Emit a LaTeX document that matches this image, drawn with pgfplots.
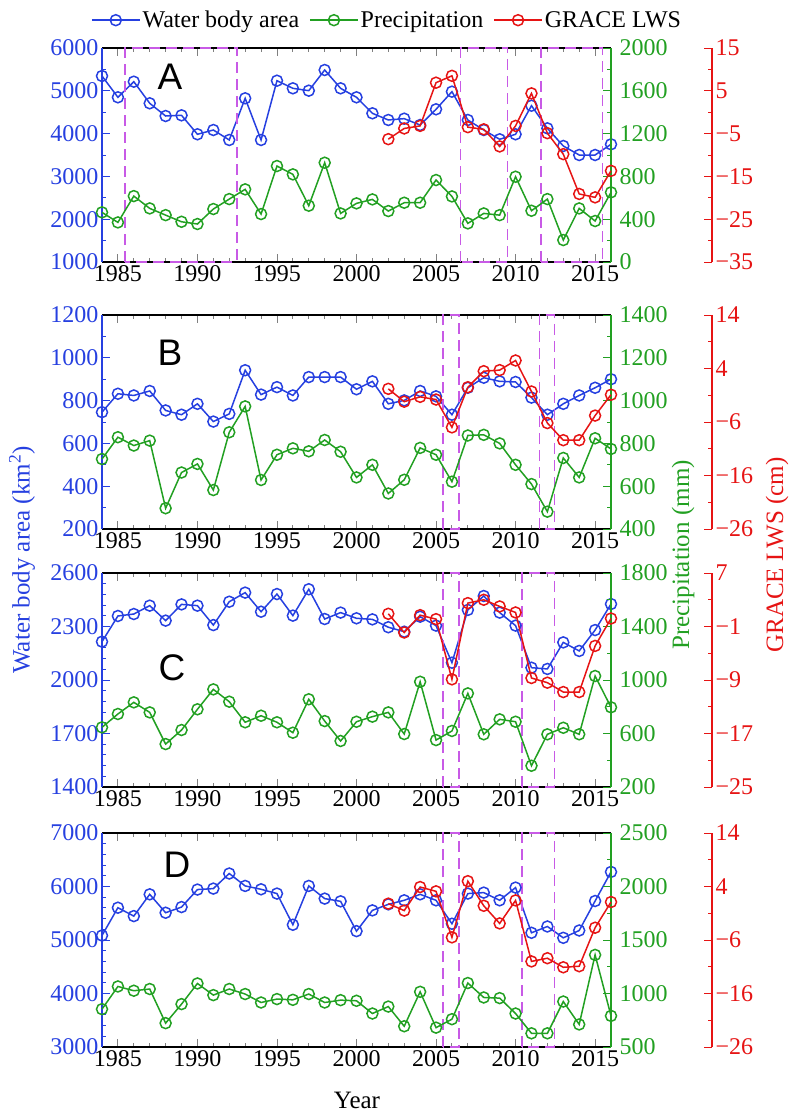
\documentclass[border=0pt]{standalone}
\usepackage{pgfplots}
\pgfplotsset{compat=1.18}
\usepackage{fontspec}
\setmainfont{Liberation Serif}
\newfontfamily\sanslab{Liberation Sans}
\definecolor{bc}{RGB}{38,64,224}
\definecolor{gc}{RGB}{34,160,34}
\definecolor{rc}{RGB}{230,20,20}
\definecolor{mc}{RGB}{200,90,230}
\tikzset{dsh/.style={draw=mc, line width=1.6pt, dash pattern=on 11pt off 6pt}}
\pgfplotsset{
  base/.style={scale only axis, width=509pt, height=214pt, xmin=1984, xmax=2016,
    anchor=south west, tick align=inside, major tick length=8pt, minor tick length=4pt,
    tick label style={font=\rmfamily\fontsize{24}{26}\selectfont},
    clip=false, axis line style={line width=1.1pt}, tick style={line width=0.9pt}},
  bluax/.style={base, axis x line*=box, axis y line*=left, xtick={1985,1990,...,2015},
    xticklabels={1985,1990,1995,2000,2005,2010,2015},
    minor x tick num=4, y axis line style={bc}, ytick style={bc},
    yticklabel style={text=bc}, x axis line style={black}},
  grnax/.style={base, axis y line*=right, axis x line=none, minor y tick num=1,
    y axis line style={gc}, ytick style={gc}, yticklabel style={text=gc, xshift=5pt}},
  reddat/.style={base, hide axis},
  redax/.style={scale only axis, width=101pt, height=214pt, anchor=south west, xmin=0, xmax=1,
    axis x line=none, axis y line*=right, tick align=inside, major tick length=8pt,
    minor tick length=4pt, minor y tick num=1, tick label style={font=\rmfamily\fontsize{24}{26}\selectfont},
    axis line style={line width=1.1pt}, tick style={line width=0.9pt},
    y axis line style={rc}, ytick style={rc}, yticklabel style={text=rc}},
  bser/.style={color=bc, line width=1.5pt, mark=o, mark size=5.5pt, mark options={solid}},
  gser/.style={color=gc, line width=1.5pt, mark=o, mark size=5.5pt, mark options={solid}},
  rser/.style={color=rc, line width=1.5pt, mark=o, mark size=5.5pt, mark options={solid}},
}
\begin{document}
\begin{tikzpicture}
\useasboundingbox (0,0) rectangle (793pt,-1115pt);
% ================= Panel A =================
\begin{axis}[bluax, at={(102pt,-262pt)}, ymin=1000, ymax=6000, ytick={1000,2000,...,6000},
  yticklabels={1000,2000,3000,4000,5000,6000}, minor y tick num=1,
  legend style={at={(0.56,1.13)}, anchor=center, draw=none, fill=none, legend columns=3,
    font=\fontsize{24}{26}\selectfont, /tikz/every even column/.append style={column sep=8pt}},
  legend image code/.code={\draw[mark repeat=2,mark phase=2] plot coordinates {(0pt,0pt) (24pt,0pt) (48pt,0pt)};}]
\addplot[bser] coordinates {(1984,5346)(1985,4848)(1986,5213)(1987,4708)(1988,4411)(1989,4427)(1990,3984)(1991,4084)(1992,3851)(1993,4825)(1994,3851)(1995,5236)(1996,5058)(1997,5003)(1998,5486)(1999,5058)(2000,4848)(2001,4474)(2002,4318)(2003,4349)(2004,4201)(2005,4568)(2006,4980)(2007,4318)(2008,4084)(2009,3867)(2010,3984)(2011,4652)(2012,4123)(2013,3711)(2014,3500)(2015,3500)(2016,3750)};
\addlegendentry{Water body area}
\addlegendimage{gser}\addlegendentry{Precipitation}
\addlegendimage{rser}\addlegendentry{GRACE LWS}
\draw[dsh] (axis cs:1985.45,1000) rectangle (axis cs:1992.47,6000);
\draw[dsh] (axis cs:2006.55,1000) rectangle (axis cs:2009.5,6000);
\draw[dsh] (axis cs:2011.6,1000) rectangle (axis cs:2015.47,6000);
\end{axis}
\begin{axis}[grnax, at={(102pt,-262pt)}, ymin=0, ymax=2000, ytick={0,400,...,2000},
  yticklabels={0,400,800,1200,1600,2000}]
\addplot[gser] coordinates {(1984,464)(1985,370)(1986,616)(1987,501)(1988,438)(1989,376)(1990,355)(1991,495)(1992,588)(1993,679)(1994,448)(1995,897)(1996,819)(1997,526)(1998,928)(1999,454)(2000,548)(2001,585)(2002,476)(2003,554)(2004,554)(2005,766)(2006,613)(2007,361)(2008,454)(2009,438)(2010,797)(2011,479)(2012,588)(2013,205)(2014,501)(2015,383)(2016,651)};
\end{axis}
\begin{axis}[reddat, at={(102pt,-262pt)}, ymin=-35, ymax=15]
\addplot[rser] coordinates {(2002,-6.3)(2003,-3.8)(2004,-3.2)(2005,6.9)(2006,8.5)(2007,-3.5)(2008,-4.0)(2009,-8.0)(2010,-3.2)(2011,4.4)(2012,-4.9)(2013,-9.8)(2014,-19.1)(2015,-19.9)(2016,-13.7)};
\end{axis}
\begin{axis}[redax, at={(611pt,-262pt)}, ymin=-35, ymax=15, ytick={-35,-25,...,15}, yticklabels={−35,−25,−15,−5,5,15}]
\end{axis}
% ================= Panel B =================
\begin{axis}[bluax, at={(102pt,-529pt)}, ymin=200, ymax=1200, ytick={200,400,...,1200},
  yticklabels={200,400,600,800,1000,1200}, minor y tick num=1]
\addplot[bser] coordinates {(1984,746)(1985,832)(1986,824)(1987,845)(1988,754)(1989,734)(1990,785)(1991,702)(1992,738)(1993,942)(1994,828)(1995,863)(1996,824)(1997,910)(1998,910)(1999,910)(2000,853)(2001,890)(2002,785)(2003,801)(2004,845)(2005,820)(2006,734)(2007,860)(2008,907)(2009,890)(2010,887)(2011,814)(2012,734)(2013,785)(2014,824)(2015,860)(2016,900)};
\draw[dsh] (axis cs:2005.45,200) rectangle (axis cs:2006.45,1200);
\draw[dsh] (axis cs:2011.5,200) rectangle (axis cs:2012.45,1200);
\end{axis}
\begin{axis}[grnax, at={(102pt,-529pt)}, ymin=400, ymax=1400, ytick={400,600,...,1400},
  yticklabels={400,600,800,1000,1200,1400}]
\addplot[gser] coordinates {(1984,727)(1985,829)(1986,790)(1987,813)(1988,497)(1989,664)(1990,704)(1991,582)(1992,852)(1993,973)(1994,629)(1995,747)(1996,777)(1997,763)(1998,816)(1999,761)(2000,641)(2001,700)(2002,566)(2003,630)(2004,779)(2005,747)(2006,621)(2007,837)(2008,840)(2009,800)(2010,700)(2011,610)(2012,481)(2013,732)(2014,641)(2015,824)(2016,774)};
\end{axis}
\begin{axis}[reddat, at={(102pt,-529pt)}, ymin=-26, ymax=14]
\addplot[rser] coordinates {(2002,0.2)(2003,-2.2)(2004,-1.3)(2005,-1.8)(2006,-7.0)(2007,0.5)(2008,3.5)(2009,3.7)(2010,5.5)(2011,-0.3)(2012,-6.2)(2013,-9.4)(2014,-9.4)(2015,-4.8)(2016,-0.9)};
\end{axis}
\begin{axis}[redax, at={(611pt,-529pt)}, ymin=-26, ymax=14, ytick={-26,-16,...,14}, yticklabels={−26,−16,−6,4,14}]
\end{axis}
% ================= Panel C =================
\begin{axis}[bluax, at={(102pt,-787pt)}, ymin=1400, ymax=2600, ytick={1400,1700,...,2600},
  yticklabels={1400,1700,2000,2300,2600}, minor y tick num=4]
\addplot[bser] coordinates {(1984,2215)(1985,2359)(1986,2370)(1987,2417)(1988,2333)(1989,2424)(1990,2417)(1991,2308)(1992,2439)(1993,2490)(1994,2383)(1995,2482)(1996,2361)(1997,2509)(1998,2342)(1999,2378)(2000,2346)(2001,2340)(2002,2296)(2003,2271)(2004,2355)(2005,2305)(2006,2097)(2007,2393)(2008,2471)(2009,2378)(2010,2305)(2011,2069)(2012,2062)(2013,2211)(2014,2163)(2015,2280)(2016,2426)};
\draw[dsh] (axis cs:2005.45,1400) rectangle (axis cs:2006.45,2600);
\draw[dsh] (axis cs:2010.4,1400) rectangle (axis cs:2012.45,2600);
\end{axis}
\begin{axis}[grnax, at={(102pt,-787pt)}, ymin=200, ymax=1800, ytick={200,600,...,1800},
  yticklabels={200,600,1000,1400,1800}]
\addplot[gser] coordinates {(1984,646)(1985,746)(1986,833)(1987,758)(1988,521)(1989,626)(1990,781)(1991,930)(1992,838)(1993,684)(1994,733)(1995,684)(1996,606)(1997,856)(1998,693)(1999,544)(2000,688)(2001,726)(2002,758)(2003,596)(2004,987)(2005,551)(2006,619)(2007,900)(2008,594)(2009,706)(2010,688)(2011,359)(2012,594)(2013,643)(2014,594)(2015,1030)(2016,796)};
\end{axis}
\begin{axis}[reddat, at={(102pt,-787pt)}, ymin=-25, ymax=7]
\addplot[rser] coordinates {(2002,0.9)(2003,-1.9)(2004,0.7)(2005,0.1)(2006,-8.9)(2007,2.5)(2008,3.0)(2009,2.0)(2010,1.1)(2011,-8.7)(2012,-9.4)(2013,-10.8)(2014,-10.8)(2015,-3.9)(2016,0.2)};
\end{axis}
\begin{axis}[redax, at={(611pt,-787pt)}, ymin=-25, ymax=7, ytick={-25,-17,...,7}, yticklabels={−25,−17,−9,−1,7}]
\end{axis}
% ================= Panel D =================
\begin{axis}[bluax, at={(102pt,-1047pt)}, ymin=3000, ymax=7000, ytick={3000,4000,...,7000},
  yticklabels={3000,4000,5000,6000,7000}, minor y tick num=4]
\addplot[bser] coordinates {(1984,5084)(1985,5604)(1986,5447)(1987,5854)(1988,5510)(1989,5616)(1990,5943)(1991,5961)(1992,6243)(1993,6011)(1994,5948)(1995,5868)(1996,5285)(1997,6011)(1998,5774)(1999,5723)(2000,5166)(2001,5554)(2002,5667)(2003,5742)(2004,5854)(2005,5742)(2006,5304)(2007,5868)(2008,5886)(2009,5742)(2010,5980)(2011,5135)(2012,5253)(2013,5041)(2014,5178)(2015,5729)(2016,6273)};
\draw[dsh] (axis cs:2005.45,3000) rectangle (axis cs:2006.45,7000);
\draw[dsh] (axis cs:2010.4,3000) rectangle (axis cs:2012.45,7000);
\end{axis}
\begin{axis}[grnax, at={(102pt,-1047pt)}, ymin=500, ymax=2500, ytick={500,1000,...,2500},
  yticklabels={500,1000,1500,2000,2500}]
\addplot[gser] coordinates {(1984,854)(1985,1066)(1986,1026)(1987,1042)(1988,723)(1989,901)(1990,1094)(1991,985)(1992,1042)(1993,995)(1994,916)(1995,948)(1996,941)(1997,995)(1998,916)(1999,938)(2000,932)(2001,813)(2002,878)(2003,694)(2004,1016)(2005,681)(2006,760)(2007,1098)(2008,963)(2009,957)(2010,813)(2011,628)(2012,628)(2013,925)(2014,711)(2015,1361)(2016,791)};
\end{axis}
\begin{axis}[reddat, at={(102pt,-1047pt)}, ymin=-26, ymax=14]
\addplot[rser] coordinates {(2002,0.8)(2003,-0.5)(2004,3.9)(2005,3.1)(2006,-5.5)(2007,5.0)(2008,0.4)(2009,-2.9)(2010,1.4)(2011,-10.0)(2012,-9.4)(2013,-11.1)(2014,-10.9)(2015,-3.7)(2016,1.1)};
\end{axis}
\begin{axis}[redax, at={(611pt,-1047pt)}, ymin=-26, ymax=14, ytick={-26,-16,...,14}, yticklabels={−26,−16,−6,4,14}]
\end{axis}
% ================= labels =================
\node[font=\sanslab\fontsize{37}{37}\selectfont] at (170pt,-77pt) {A};
\node[font=\sanslab\fontsize{37}{37}\selectfont] at (170pt,-353pt) {B};
\node[font=\sanslab\fontsize{37}{37}\selectfont] at (172pt,-668pt) {C};
\node[font=\sanslab\fontsize{37}{37}\selectfont] at (177pt,-865pt) {D};
\node[rotate=90, text=bc, font=\fontsize{25}{27}\selectfont] at (22pt,-560pt) {Water body area (km\textsuperscript{2})};
\node[rotate=90, text=gc, font=\fontsize{25}{27}\selectfont] at (683pt,-555pt) {Precipitation (mm)};
\node[rotate=90, text=rc, font=\fontsize{25}{27}\selectfont] at (777pt,-555pt) {GRACE LWS (cm)};
\node[font=\fontsize{25}{27}\selectfont] at (357pt,-1100pt) {Year};
\end{tikzpicture}
\end{document}
